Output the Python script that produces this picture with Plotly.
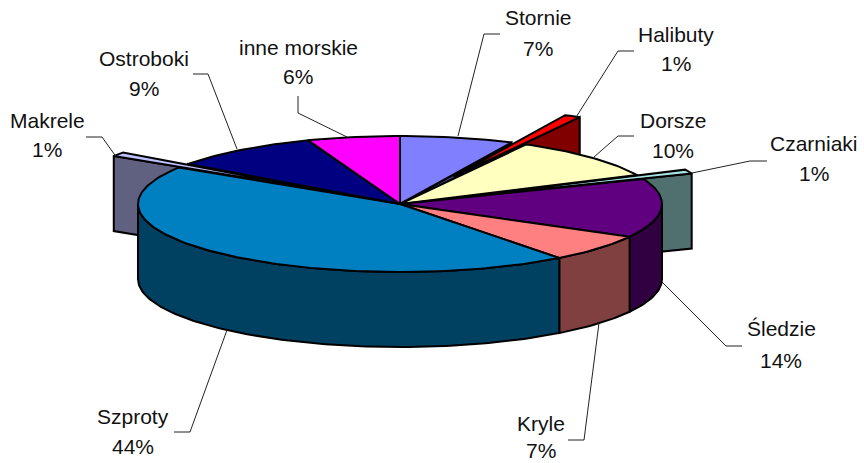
import math
import plotly.graph_objects as go

# ---- data ----
categories = ["Stornie", "Halibuty", "Dorsze", "Czarniaki", "Śledzie", "Kryle", "Szproty", "Makrele", "Ostroboki", "inne morskie"]
values = [7, 1, 10, 1, 14, 6.6, 44.4, 1, 9.3, 5.7]
percent_labels = ["7%", "1%", "10%", "1%", "14%", "7%", "44%", "1%", "9%", "6%"]
explode = [0, 0.45, 0, 0.2, 0, 0, 0, 0.3, 0, 0]
top_colors = ["#8080FF", "#FF0000", "#FFFFC0", "#A6E3E3", "#600080", "#FF8080", "#0080C0", "#C0C0FF", "#000080", "#FF00FF"]
side_colors = ["#404080", "#800000", "#808060", "#507070", "#300040", "#804040", "#004060", "#606080", "#000040", "#800080"]

# ---- projection (pixel space of the 864x463 page) ----
CX, CY, RX, RY, DEPTH = 400, 204, 262, 68, 75
LW = 2

total = sum(values)
starts, ends = [], []
c = 0
for v in values:
    starts.append(c / total * 2 * math.pi)
    c += v
    ends.append(c / total * 2 * math.pi)


def offset(i):
    mid = (starts[i] + ends[i]) / 2
    return RX * explode[i] * math.sin(mid), -RY * explode[i] * math.cos(mid)


def pt(i, a, dy=0):
    ox, oy = offset(i)
    return CX + ox + RX * math.sin(a), CY + oy - RY * math.cos(a) + dy


def apex(i, dy=0):
    ox, oy = offset(i)
    return CX + ox, CY + oy + dy


def arc(i, a0, a1, dy=0):
    n = max(2, int(abs(a1 - a0) / 0.02))
    return [pt(i, a0 + (a1 - a0) * k / n, dy) for k in range(n + 1)]


fig = go.Figure()


def poly(points, color):
    fig.add_trace(go.Scatter(
        x=[p[0] for p in points] + [points[0][0]],
        y=[p[1] for p in points] + [points[0][1]],
        mode="lines", fill="toself", fillcolor=color,
        line=dict(color="black", width=LW), hoverinfo="skip", showlegend=False))


def radial_wall(i, a):
    poly([apex(i), pt(i, a), pt(i, a, DEPTH), apex(i, DEPTH)], side_colors[i])


def top(i):
    poly([apex(i)] + arc(i, starts[i], ends[i]), top_colors[i])


n = len(values)
exploded = [i for i in range(n) if explode[i] > 0]
body = [i for i in range(n) if explode[i] == 0]

# inner cut faces of the pulled-out slices
radial_wall(1, ends[1])
radial_wall(3, ends[3])
radial_wall(7, starts[7])

# cut faces of the body next to the gaps
for i in body:
    if explode[(i + 1) % n] > 0 and ends[i] < math.pi * 0.6:
        radial_wall(i, ends[i])
    if explode[(i - 1) % n] > 0 and starts[i] > math.pi:
        radial_wall(i, starts[i])

for i in exploded:
    top(i)

# front rim
for i in body:
    a0, a1 = max(starts[i], math.pi / 2), min(ends[i], 3 * math.pi / 2)
    if a1 > a0:
        poly(arc(i, a0, a1) + arc(i, a1, a0, DEPTH), side_colors[i])

for i in body:
    top(i)

# ---- labels and leader lines ----
label_x = [538, 676, 673, 814, 781, 541, 133, 47, 144, 298]
name_y = [17, 34, 120, 143, 328, 423, 416, 120, 58, 47]
pct_y = [48, 63, 150, 173, 360, 450, 446, 149, 88, 76]
leaders = [
    [(458, 136), (484, 34), (500, 34)],
    [(573, 122), (618, 51), (634, 51)],
    [(594, 157), (618, 136), (634, 136)],
    [(692, 173), (750, 161), (767, 161)],
    [(662, 282), (726, 346), (742, 346)],
    [(599, 323), (584, 440), (568, 440)],
    [(227, 330), (190, 432), (174, 432)],
    [(117, 158), (102, 137), (86, 137)],
    [(237, 149), (208, 74), (193, 74)],
    [(347, 137), (298, 113), (298, 96)],
]
for cat, pct, lx, y1, y2 in zip(categories, percent_labels, label_x, name_y, pct_y):
    for txt, ly in ((cat, y1), (pct, y2)):
        fig.add_annotation(x=lx, y=ly, text=txt, showarrow=False, xref="x", yref="y",
                           font=dict(family="Liberation Sans", size=21, color="#111111"))
for path in leaders:
    fig.add_trace(go.Scatter(x=[p[0] for p in path], y=[p[1] for p in path], mode="lines",
                             line=dict(color="#222222", width=1), hoverinfo="skip", showlegend=False))

fig.update_layout(
    width=864, height=463, margin=dict(l=0, r=0, t=0, b=0),
    paper_bgcolor="white", plot_bgcolor="white", showlegend=False,
    xaxis=dict(range=[0, 864], visible=False),
    yaxis=dict(range=[463, 0], visible=False),
)
fig.write_html("out.html", config={"displayModeBar": False},
               post_script="document.body.style.margin='0';document.body.style.overflow='hidden';")
